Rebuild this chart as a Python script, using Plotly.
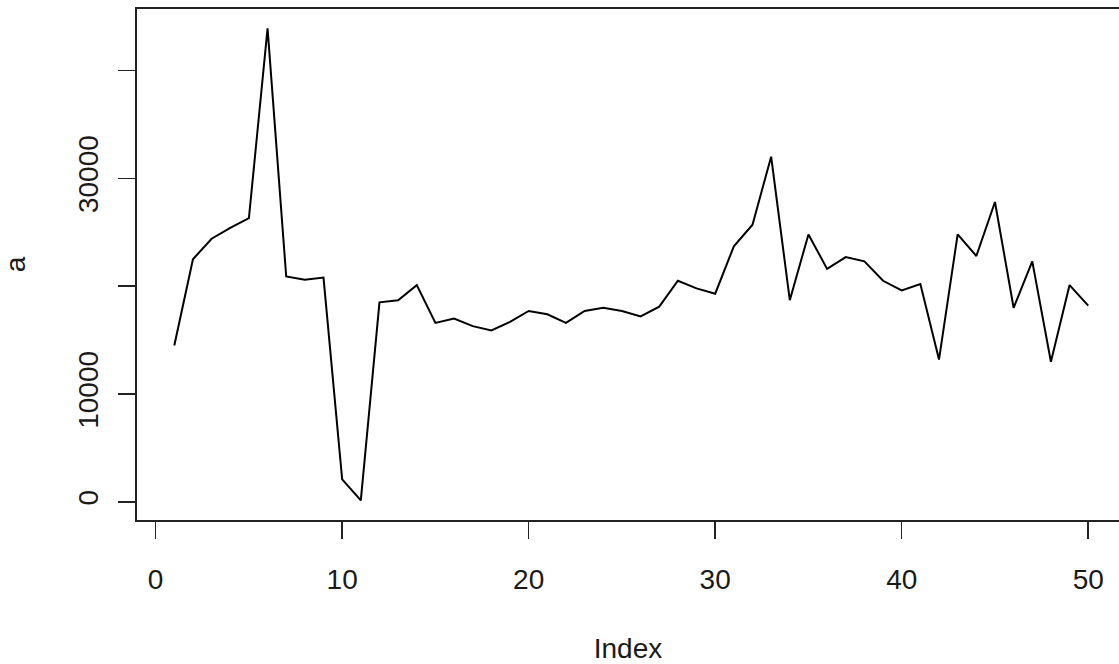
import plotly.graph_objects as go

index = list(range(1, 51))
a = [14500, 22500, 24400, 25400, 26300, 43900, 20900, 20600, 20800, 2100,
     150, 18500, 18700, 20100, 16600, 17000, 16300, 15900, 16700, 17700,
     17400, 16600, 17700, 18000, 17700, 17200, 18100, 20500, 19800, 19300,
     23700, 25700, 32000, 18700, 24800, 21600, 22700, 22300, 20500, 19600,
     20200, 13200, 24800, 22800, 27800, 18000, 22300, 13000, 20100, 18200]

y_tickvals = [0, 10000, 20000, 30000, 40000]
y_ticktext = ["0", "10000", "", "30000", ""]
x_tickvals = [0, 10, 20, 30, 40, 50]

FONT = "Liberation Sans, Arial, sans-serif"

fig = go.Figure()
fig.add_trace(go.Scatter(x=index, y=a, mode="lines",
                         line=dict(color="black", width=2),
                         showlegend=False, hoverinfo="skip"))

fig.update_layout(
    width=1119, height=664,
    margin=dict(l=137, r=0, t=9, b=144),
    paper_bgcolor="white", plot_bgcolor="white",
    font=dict(family=FONT, size=28, color="#1a1a1a"),
    xaxis=dict(
        range=[-1.0, 51.65], tickvals=x_tickvals,
        showgrid=False, zeroline=False,
        showline=True, mirror=True, linecolor="#222", linewidth=1.8,
        ticks="outside", ticklen=17, tickwidth=1.5, tickcolor="#222",
        ticklabelstandoff=17,
        title=dict(text="Index", standoff=46, font=dict(size=28)),
    ),
    yaxis=dict(
        range=[-1670, 45690], tickvals=y_tickvals, ticktext=y_ticktext,
        tickangle=-90,
        showgrid=False, zeroline=False,
        showline=True, mirror=False, linecolor="#222", linewidth=1.8,
        ticks="outside", ticklen=17, tickwidth=1.5, tickcolor="#222",
        ticklabelstandoff=9,
        title=dict(text="a", standoff=42, font=dict(size=28)),
    ),
)

fig.write_html("out.html",
               config={"displayModeBar": False, "staticPlot": True},
               post_script="document.body.style.margin='0';document.body.style.overflow='hidden';")
